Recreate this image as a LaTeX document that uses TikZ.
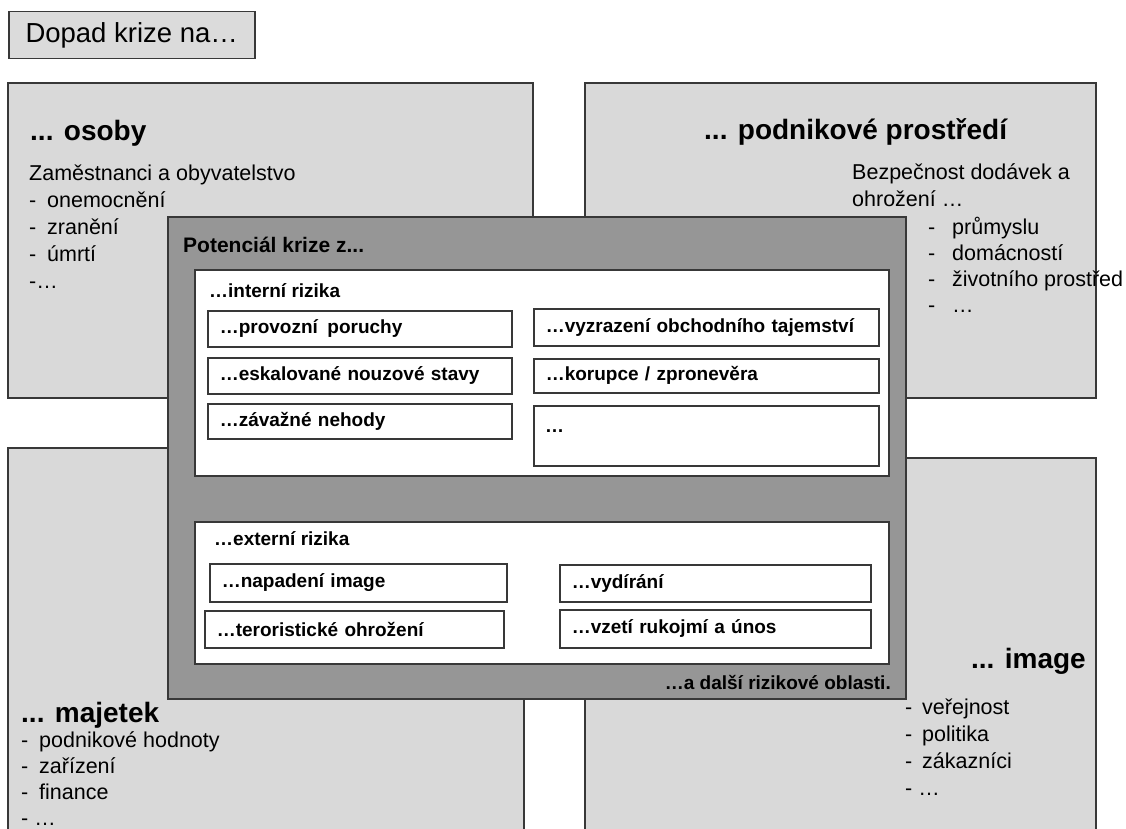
\documentclass[tikz,border=0pt]{standalone}
\usepackage{fontspec}
\setmainfont{Liberation Sans}
\usetikzlibrary{positioning}

\definecolor{paleGray}{gray}{0.85}
\definecolor{labelGray}{gray}{0.86}
\definecolor{coreGray}{gray}{0.59}
\definecolor{frameGray}{gray}{0.22}

\newcommand{\headfont}{\fontsize{28}{32}\selectfont\bfseries}
\newcommand{\bodyfont}{\fontsize{21.5}{27}\selectfont}
\newcommand{\riskfont}{\fontsize{19}{23}\selectfont\bfseries}
\newcommand{\dashitem}[2][18pt]{\makebox[#1][l]{-}#2}

\begin{document}
\begin{tikzpicture}[
  x=1pt, y=-1pt,
  impact/.style={draw=frameGray, fill=paleGray, line width=1.5pt},
  core/.style={draw=frameGray, fill=coreGray, line width=1.5pt},
  panel/.style={draw=frameGray, fill=white, line width=1.5pt},
  riskbox/.style={draw=frameGray, fill=white, line width=1.5pt, anchor=north west,
    inner xsep=12pt, inner ysep=0pt, align=left, font=\riskfont},
  head/.style={font=\headfont, inner sep=0pt},
  body/.style={font=\bodyfont, align=left, inner sep=0pt, anchor=north west},
  risklabel/.style={font=\riskfont, inner sep=0pt}
]
  \useasboundingbox (0,0) rectangle (1126,829);
  \fill[white] (0,0) rectangle (1126,829);

  % nadpis
  \node[draw=frameGray, fill=labelGray, line width=1.5pt, anchor=north west,
    minimum width=246, minimum height=47, font=\fontsize{27.5}{30}\selectfont]
    (dopad) at (8,11) {Dopad krize na…};

  % ctyri oblasti dopadu
  \draw[impact] (8,83) rectangle (533,398);
  \node[head, anchor=base west] (osoby) at (30,141) {... osoby};
  \node[body] (osobyList) at (29,165) {Zaměstnanci a obyvatelstvo\\
    \dashitem{onemocnění}\\ \dashitem{zranění}\\ \dashitem{úmrtí}\\ -…};

  \draw[impact] (585,83) rectangle (1096,398);
  \node[head, anchor=base west] (prostredi) at (704,140) {... podnikové prostředí};
  \node[body] (prostrediText) at (852,163) {Bezpečnost dodávek a\\ ohrožení …};
  \node[body, font=\fontsize{21.5}{26}\selectfont] (prostrediList) at (928,217)
    {\dashitem[24pt]{průmyslu}\\ \dashitem[24pt]{domácností}\\
     \dashitem[24pt]{životního prostřed}\\ \dashitem[24pt]{…}};

  \draw[impact] (8,448) rectangle (524,840);
  \node[head, anchor=base west] (majetek) at (21,722) {... majetek};
  \node[body, font=\fontsize{21.5}{26.3}\selectfont] (majetekList) at (21,731)
    {\dashitem{podnikové hodnoty}\\ \dashitem{zařízení}\\ \dashitem{finance}\\ - …};

  \draw[impact] (585,458) rectangle (1096,840);
  \node[head, anchor=base east] (image) at (1086,668) {... image};
  \node[body] (imageList) at (905,699) {\dashitem[17pt]{veřejnost}\\
    \dashitem[17pt]{politika}\\ \dashitem[17pt]{zákazníci}\\ - …};

  % potencial krize
  \draw[core] (168,217) rectangle (906,699);
  \node[risklabel, font=\fontsize{21}{25}\selectfont\bfseries, anchor=base west]
    (potencial) at (183,252) {Potenciál krize z...};

  \draw[panel] (195,270) rectangle (889,476);
  \node[risklabel, anchor=base west] (interni) at (209,297) {…interní rizika};
  \node[riskbox, text width=280, minimum height=36] (provoz) at (207,310) {…provozní\, poruchy};
  \node[riskbox, text width=280, minimum height=36] (nouze) at (207,357) {…eskalované nouzové stavy};
  \node[riskbox, text width=280, minimum height=35] (nehody) at (207,403) {…závažné nehody};
  \node[riskbox, text width=321, minimum height=37] (tajemstvi) at (533,308) {…vyzrazení obchodního tajemství};
  \node[riskbox, text width=321, minimum height=34] (korupce) at (533,358) {…korupce / zpronevěra};
  \node[riskbox, text width=321, minimum height=60] (dalsiInt) at (533,405) {};
  \node[risklabel, anchor=base west] (dalsiIntText) at (545,432) {…};

  \draw[panel] (195,522) rectangle (889,664);
  \node[risklabel, anchor=base west] (externi) at (214,545) {…externí rizika};
  \node[riskbox, text width=273, minimum height=38] (napadeni) at (209,563) {…napadení image};
  \node[riskbox, text width=275, minimum height=37] (teror) at (204,610) {…teroristické ohrožení};
  \node[riskbox, text width=287, minimum height=37] (vydirani) at (559,564) {…vydírání};
  \node[riskbox, text width=287, minimum height=38] (rukojmi) at (559,609) {…vzetí rukojmí a únos};

  \node[risklabel, anchor=base east] (dalsiOblasti) at (891,689) {…a další rizikové oblasti.};
\end{tikzpicture}
\end{document}
